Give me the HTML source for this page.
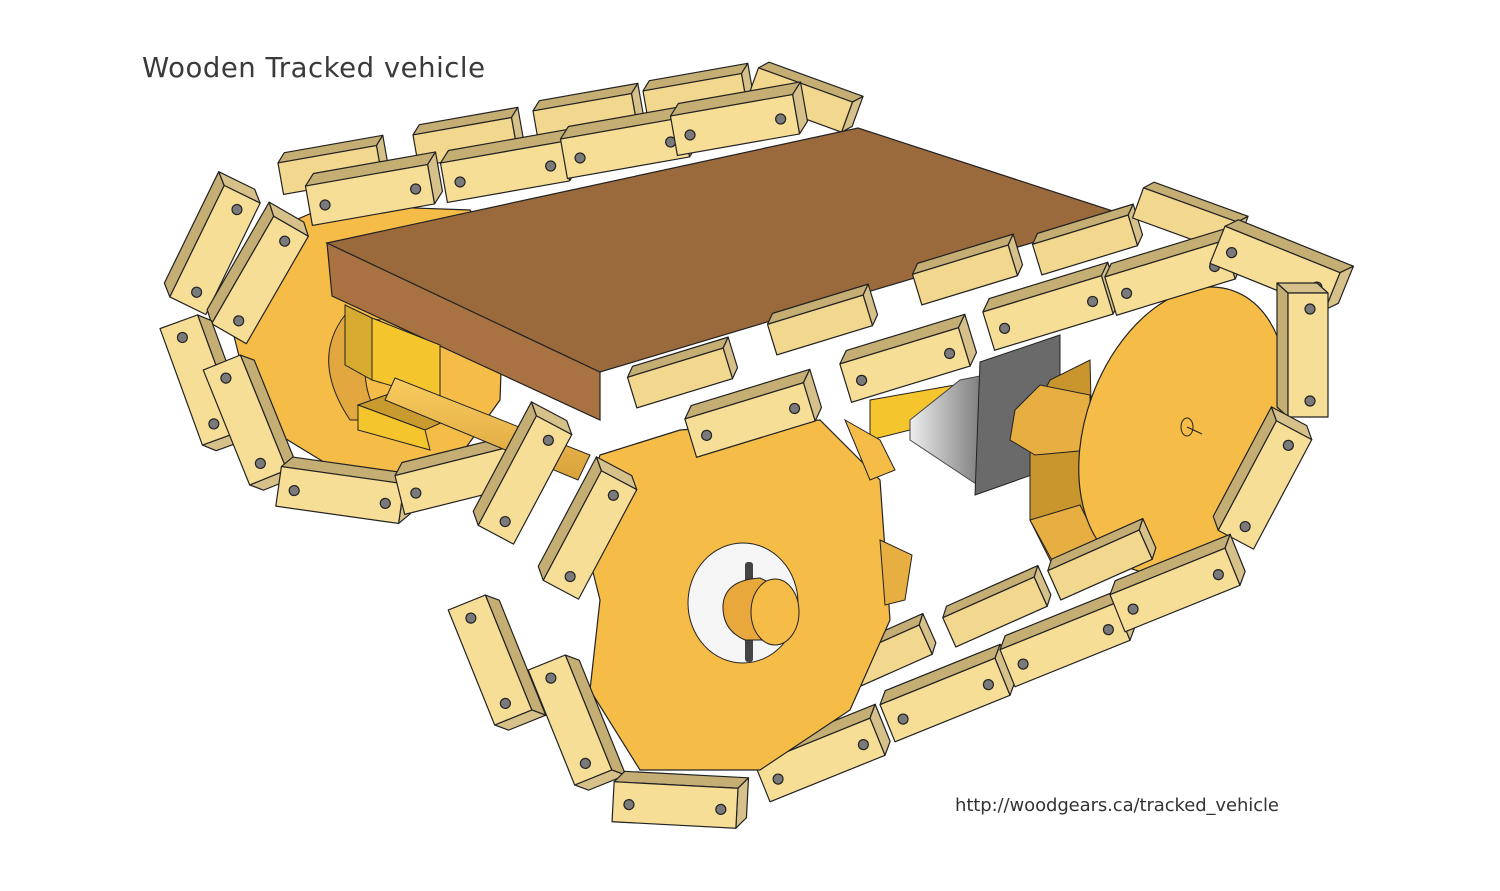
<!DOCTYPE html>
<html><head><meta charset="utf-8"><style>
html,body{margin:0;padding:0;background:#fff}
svg{display:block}
text{font-family:"DejaVu Sans","Liberation Sans",sans-serif}
</style></head><body>
<svg width="1500" height="891" viewBox="0 0 1500 891" xmlns="http://www.w3.org/2000/svg">
<defs>
<g id="b" stroke="#222" stroke-width="1.2" stroke-linejoin="round">
<polygon points="-62,-20 -52,-31 72,-31 62,-20" fill="#C4AE74"/>
<polygon points="62,-20 72,-31 72,9 62,20" fill="#D7C18A"/>
<rect x="-62" y="-20" width="124" height="40" fill="#F7DE97"/>
<circle cx="-46" cy="2" r="5" fill="#7a7a7a"/>
<circle cx="46" cy="2" r="5" fill="#7a7a7a"/>
</g>
<g id="s" stroke="#222" stroke-width="1.2" stroke-linejoin="round">
<polygon points="-50,-16 -42,-25 58,-25 50,-16" fill="#C4AE74"/>
<polygon points="50,-16 58,-25 58,7 50,16" fill="#D7C18A"/>
<rect x="-50" y="-16" width="100" height="32" fill="#F2D78E"/>
</g>
<linearGradient id="ax" x1="0" y1="0" x2="0" y2="1"><stop offset="0" stop-color="#F9CC60"/><stop offset="1" stop-color="#D9A23A"/></linearGradient>
<linearGradient id="mot" x1="0" y1="0" x2="1" y2="0"><stop offset="0" stop-color="#eee"/><stop offset="1" stop-color="#777"/></linearGradient>
</defs>

<text x="142" y="77" font-size="27.5" fill="#3a3a3a" textLength="343">Wooden Tracked vehicle</text>
<text x="955" y="811" font-size="18" fill="#333" textLength="324">http://woodgears.ca/tracked_vehicle</text>

<!-- back track top -->
<use href="#s" transform="translate(330,170) rotate(-10)"/>
<use href="#s" transform="translate(465,142) rotate(-10)"/>
<use href="#s" transform="translate(585,118) rotate(-10)"/>
<use href="#s" transform="translate(695,98) rotate(-10)"/>
<use href="#s" transform="translate(800,100) rotate(20)"/>

<!-- left wheel -->
<polygon points="250,240 330,205 470,210 505,260 500,400 450,470 350,478 255,420 230,320" fill="#F5BC48" stroke="#222" stroke-width="1.2"/>
<path d="M345,315 Q310,360 350,420 L380,420 Q350,370 380,320 Z" fill="#E2A83F" stroke="#222"/>

<use href="#b" transform="translate(370,195) rotate(-10)"/>
<use href="#b" transform="translate(505,172) rotate(-10)"/>
<use href="#b" transform="translate(625,148) rotate(-10)"/>
<use href="#b" transform="translate(735,125) rotate(-10)"/>

<use href="#b" transform="translate(215,250) rotate(-64)"/>
<use href="#b" transform="translate(260,280) rotate(-60)"/>
<use href="#b" transform="translate(200,380) rotate(70)"/>
<use href="#b" transform="translate(245,420) rotate(68)"/>
<use href="#b" transform="translate(340,495) rotate(8)"/>
<use href="#b" transform="translate(460,480) rotate(-14)"/>

<!-- board -->
<polygon points="327,243 600,372 600,420 332,296" fill="#A87242" stroke="#222" stroke-width="1.2"/>
<polygon points="327,243 858,128 1125,215 600,372" fill="#9A6A3C" stroke="#222" stroke-width="1.2"/>
<polygon points="345,305 372,318 372,380 345,365" fill="#D7AA30" stroke="#222"/>
<polygon points="372,318 440,345 440,400 372,380" fill="#F5C52E" stroke="#222"/>
<polygon points="358,405 400,390 470,410 425,430" fill="#C99A2E" stroke="#222"/>
<polygon points="358,405 425,430 430,450 358,430" fill="#F5C52E" stroke="#222"/>
<polygon points="395,378 590,455 578,480 385,400" fill="url(#ax)" stroke="#222"/>
<polygon points="870,400 955,385 950,420 870,440" fill="#F5C52E" stroke="#222"/>
<path d="M910,420 L960,380 L985,375 L985,490 L910,440 Z" fill="url(#mot)" stroke="#444"/>
<polygon points="980,362 1060,335 1060,465 975,495" fill="#6a6a6a" stroke="#222"/>

<!-- right wheel -->
<polygon points="1030,420 1050,380 1090,360 1095,560 1060,580 1030,520" fill="#C9962E" stroke="#222"/>
<polygon points="1015,410 1040,385 1090,395 1090,450 1035,455 1010,440" fill="#E7AE42" stroke="#222"/>
<polygon points="1030,520 1080,505 1100,545 1080,580 1060,575" fill="#E7AE42" stroke="#222"/>
<ellipse cx="1183" cy="430" rx="97" ry="148" transform="rotate(20 1183 430)" fill="#F5BC48" stroke="#222" stroke-width="1.2"/>
<ellipse cx="1187" cy="427" rx="6" ry="9" fill="none" stroke="#222"/>
<line x1="1187" y1="427" x2="1202" y2="434" stroke="#222"/>

<!-- right top track -->
<use href="#s" transform="translate(680,378) rotate(-17)"/>
<use href="#s" transform="translate(820,325) rotate(-17)"/>
<use href="#s" transform="translate(965,275) rotate(-17)"/>
<use href="#s" transform="translate(1085,245) rotate(-17)"/>
<use href="#s" transform="translate(1185,220) rotate(20)"/>
<use href="#b" transform="translate(905,365) rotate(-17)"/>
<use href="#b" transform="translate(1048,313) rotate(-17)"/>
<use href="#b" transform="translate(1170,278) rotate(-17)"/>
<use href="#b" transform="translate(1275,268) rotate(22)"/>
<use href="#b" transform="translate(1308,355) rotate(-90)"/>
<use href="#b" transform="translate(1265,485) rotate(-62)"/>

<!-- bottom track -->
<use href="#s" transform="translate(880,660) rotate(-24)"/>
<use href="#s" transform="translate(995,612) rotate(-24)"/>
<use href="#s" transform="translate(1100,565) rotate(-24)"/>
<use href="#b" transform="translate(945,700) rotate(-22)"/>
<use href="#b" transform="translate(1065,645) rotate(-22)"/>
<use href="#b" transform="translate(1175,590) rotate(-22)"/>
<use href="#b" transform="translate(820,760) rotate(-22)"/>

<!-- front wheel -->
<polygon points="600,455 680,430 820,420 880,480 890,620 850,710 760,770 640,770 590,690 600,600 580,520" fill="#F5BC48" stroke="#222" stroke-width="1.2"/>
<polygon points="880,540 912,555 905,600 885,605" fill="#E7AE42" stroke="#222"/>
<polygon points="845,420 880,440 895,470 870,480" fill="#F5BC48" stroke="#222"/>
<ellipse cx="743" cy="603" rx="55" ry="60" fill="#f5f5f5" stroke="#222"/>
<rect x="745" y="562" width="8" height="100" rx="3" fill="#444"/>
<path d="M723,605 Q725,580 760,578 L775,585 L780,640 L745,640 Q722,630 723,605 Z" fill="#E8A83C" stroke="#222"/>
<ellipse cx="775" cy="612" rx="24" ry="33" fill="#F5BC48" stroke="#222"/>

<use href="#b" transform="translate(750,420) rotate(-17)"/>
<use href="#b" transform="translate(525,480) rotate(-62)"/>
<use href="#b" transform="translate(590,535) rotate(-62)"/>
<use href="#b" transform="translate(490,660) rotate(68)"/>
<use href="#b" transform="translate(570,720) rotate(68)"/>
<use href="#b" transform="translate(675,805) rotate(3)"/>
</svg>
</body></html>
